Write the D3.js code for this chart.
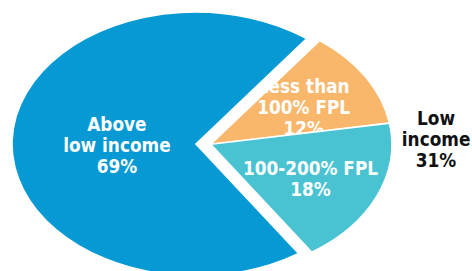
<!DOCTYPE html>
<html>
<head>
<meta charset="utf-8">
<script src="https://cdn.jsdelivr.net/npm/d3@7"></script>
<style>
  html, body { margin: 0; padding: 0; background: #fff; }
  svg { display: block; }
  text { font-family: "DejaVu Sans Condensed", "DejaVu Sans", sans-serif; font-stretch: condensed; font-weight: bold; }
</style>
</head>
<body>
<svg id="chart" width="472" height="271"></svg>
<script>
// ---- data ----
const categories = ["Less than|100% FPL", "100-200% FPL", "Above|low income"];
const values = [12, 18, 69];
const valueLabels = ["12%", "18%", "69%"];
const groupMembers = [0, 1];          // slices forming the exploded "Low income" group
const groupLabel = ["Low", "income", "31%"];
const colors = ["#F9B76B", "#49C3D2", "#0699D4"];

// ---- layout ----
const W = 472, H = 271;
const cx = 196, cy = 144;
const rx = 184, ry = 132;
const explodedScale = 0.985;
const explodeDist = 14.7;
const startAngle = 37 * Math.PI / 180;
const lineH = 21;
const fontSize = 18.8;

const svg = d3.select("#chart");
const pie = d3.pie().sort(null).value(d => d).startAngle(startAngle).endAngle(startAngle + 2 * Math.PI);
const arcs = pie(values);

const gStart = d3.min(groupMembers, i => arcs[i].startAngle);
const gEnd = d3.max(groupMembers, i => arcs[i].endAngle);
const gMid = (gStart + gEnd) / 2;
const ox = Math.sin(gMid) * explodeDist;
const oy = -Math.cos(gMid) * explodeDist * (ry / rx);

const sx = rx / ry;

function drawSlice(i) {
  const exploded = groupMembers.includes(i);
  const r = exploded ? ry * explodedScale : ry;
  const tx = cx + (exploded ? ox : 0), ty = cy + (exploded ? oy : 0);
  const arc = d3.arc().innerRadius(0).outerRadius(r);
  svg.append("path")
    .attr("d", arc(arcs[i]))
    .attr("transform", `translate(${tx},${ty}) scale(${sx},1)`)
    .attr("fill", colors[i])
    .attr("stroke", "#fff")
    .attr("stroke-width", 1.6)
    .attr("vector-effect", "non-scaling-stroke");
  // label
  const a = (arcs[i].startAngle + arcs[i].endAngle) / 2;
  const lr = (arcs[i].endAngle - arcs[i].startAngle) > Math.PI ? 0.43 : 0.6;
  const lx = tx + Math.sin(a) * lr * rx * (exploded ? explodedScale : 1);
  const ly = ty - Math.cos(a) * lr * ry * (exploded ? explodedScale : 1);
  const lines = categories[i].split("|").concat([valueLabels[i]]);
  drawLines(lines, lx, ly, "#fff");
}

function drawLines(lines, x, y, fill) {
  const t = svg.append("text")
    .attr("text-anchor", "middle")
    .attr("font-size", fontSize + "px")
    .attr("fill", fill);
  const y0 = y - (lines.length - 1) * lineH / 2 + 10;
  lines.forEach((s, k) => {
    t.append("tspan").attr("x", x).attr("y", y0 + k * lineH).text(s);
  });
}

// draw order: orange, teal, blue (later slices may cover earlier labels)
[0, 1, 2].forEach(drawSlice);

// outside group label, to the right of the exploded group
const glx = cx + ox + 1.225 * rx;
const gly = cy + oy - 8;
drawLines(groupLabel, glx, gly, "#111");
</script>
</body>
</html>
